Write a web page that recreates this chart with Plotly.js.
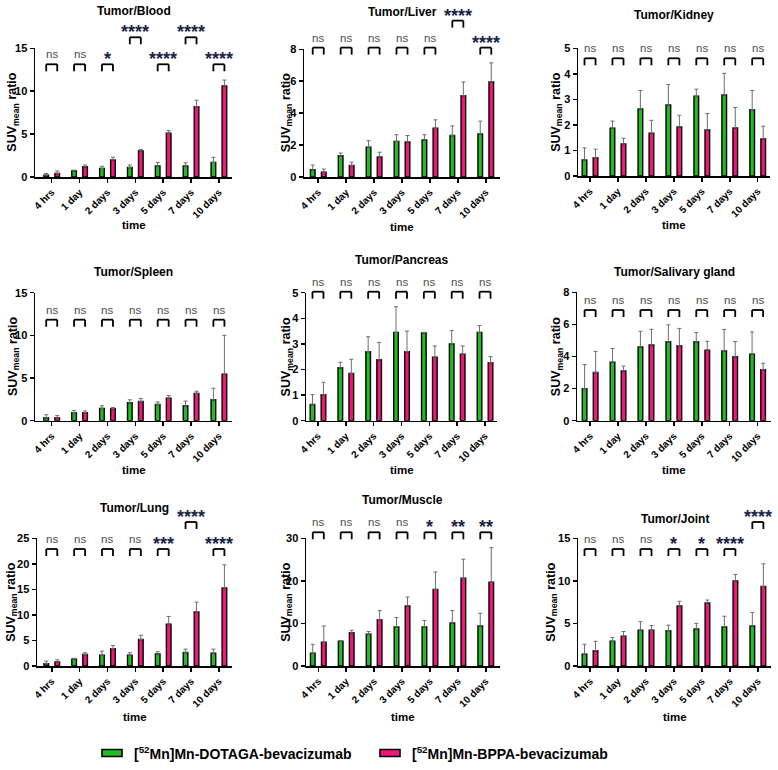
<!DOCTYPE html>
<html>
<head>
<meta charset="utf-8">
<script src="https://cdn.plot.ly/plotly-3.0.1.min.js"></script>
<style>
  html, body { margin: 0; padding: 0; background: #fff; }
  #chart { width: 778px; height: 770px; }
</style>
</head>
<body>
<div id="chart"></div>
<script>
// Time points after injection
const timepoints = ['4 hrs', '1 day', '2 days', '3 days', '5 days', '7 days', '10 days'];
const seriesNames = ['[<sup>52</sup>Mn]Mn-DOTAGA-bevacizumab', '[<sup>52</sup>Mn]Mn-BPPA-bevacizumab'];

// SUVmean ratios (mean and SD) for each tumor/organ pair
const bloodDotaga = [0.2, 0.7, 1.0, 1.1, 1.3, 1.3, 1.7];
const bloodDotagaSd = [0.2, 0.1, 0.25, 0.3, 0.4, 0.35, 0.6];
const bloodBppa = [0.4, 1.2, 2.0, 3.05, 5.1, 8.2, 10.6];
const bloodBppaSd = [0.3, 0.2, 0.3, 0.15, 0.3, 0.75, 0.7];
const bloodSig = ['ns', 'ns', '*', '****', '****', '****', '****'];
const bloodRaised = [0, 0, 0, 1, 0, 1, 0];

const liverDotaga = [0.45, 1.33, 1.87, 2.23, 2.32, 2.6, 2.7];
const liverDotagaSd = [0.3, 0.17, 0.4, 0.42, 0.33, 0.6, 0.8];
const liverBppa = [0.3, 0.72, 1.25, 2.2, 3.05, 5.1, 5.95];
const liverBppaSd = [0.2, 0.21, 0.3, 0.4, 0.53, 0.85, 1.2];
const liverSig = ['ns', 'ns', 'ns', 'ns', 'ns', '****', '****'];
const liverRaised = [0, 0, 0, 0, 0, 1, 0];

const kidneyDotaga = [0.63, 1.87, 2.63, 2.78, 3.12, 3.17, 2.6];
const kidneyDotagaSd = [0.47, 0.28, 0.72, 0.8, 0.28, 0.85, 0.75];
const kidneyBppa = [0.72, 1.25, 1.68, 1.92, 1.8, 1.88, 1.45];
const kidneyBppaSd = [0.33, 0.23, 0.5, 0.46, 0.65, 0.8, 0.5];
const kidneySig = ['ns', 'ns', 'ns', 'ns', 'ns', 'ns', 'ns'];
const kidneyRaised = [0, 0, 0, 0, 0, 0, 0];

const spleenDotaga = [0.35, 0.95, 1.45, 2.1, 1.9, 1.75, 2.45];
const spleenDotagaSd = [0.35, 0.25, 0.3, 0.35, 0.3, 0.55, 1.35];
const spleenBppa = [0.35, 0.95, 1.42, 2.25, 2.65, 3.2, 5.45];
const spleenBppaSd = [0.25, 0.2, 0.13, 0.35, 0.3, 0.25, 4.55];
const spleenSig = ['ns', 'ns', 'ns', 'ns', 'ns', 'ns', 'ns'];
const spleenRaised = [0, 0, 0, 0, 0, 0, 0];

const pancreasDotaga = [0.63, 2.07, 2.7, 3.45, 3.43, 3.0, 3.45];
const pancreasDotagaSd = [0.39, 0.21, 0.58, 1.0, 0.02, 0.52, 0.27];
const pancreasBppa = [1.02, 1.85, 2.38, 2.7, 2.48, 2.6, 2.27];
const pancreasBppaSd = [0.48, 0.55, 0.68, 0.8, 0.44, 0.32, 0.23];
const pancreasSig = ['ns', 'ns', 'ns', 'ns', 'ns', 'ns', 'ns'];
const pancreasRaised = [0, 0, 0, 0, 0, 0, 0];

const salivaryDotaga = [2.0, 3.65, 4.6, 4.92, 4.92, 4.35, 4.15];
const salivaryDotagaSd = [1.5, 0.85, 0.97, 1.05, 0.58, 1.33, 1.38];
const salivaryBppa = [3.0, 3.1, 4.72, 4.68, 4.4, 3.98, 3.18];
const salivaryBppaSd = [1.32, 0.3, 0.98, 1.07, 0.55, 0.95, 0.4];
const salivarySig = ['ns', 'ns', 'ns', 'ns', 'ns', 'ns', 'ns'];
const salivaryRaised = [0, 0, 0, 0, 0, 0, 0];

const lungDotaga = [0.45, 1.35, 2.1, 2.1, 2.35, 2.65, 2.5];
const lungDotagaSd = [0.5, 0.15, 0.8, 0.5, 0.45, 0.65, 0.8];
const lungBppa = [0.8, 2.25, 3.4, 5.2, 8.2, 10.6, 15.3];
const lungBppaSd = [0.4, 0.35, 0.6, 0.8, 1.5, 1.9, 4.5];
const lungSig = ['ns', 'ns', 'ns', 'ns', '***', '****', '****'];
const lungRaised = [0, 0, 0, 0, 0, 1, 0];

const muscleDotaga = [3.0, 5.8, 7.5, 9.2, 9.2, 10.1, 9.4];
const muscleDotagaSd = [2.1, 0.15, 0.6, 2.2, 1.5, 2.9, 3.0];
const muscleBppa = [5.6, 7.8, 10.9, 14.1, 18.0, 20.6, 19.7];
const muscleBppaSd = [3.8, 0.6, 2.1, 2.1, 4.1, 4.5, 8.1];
const muscleSig = ['ns', 'ns', 'ns', 'ns', '*', '**', '**'];
const muscleRaised = [0, 0, 0, 0, 0, 0, 0];

const jointDotaga = [1.4, 2.9, 4.2, 4.15, 4.35, 4.6, 4.7];
const jointDotagaSd = [1.15, 0.45, 1.0, 0.65, 0.65, 1.25, 1.6];
const jointBppa = [1.8, 3.5, 4.2, 7.05, 7.4, 10.0, 9.35];
const jointBppaSd = [1.1, 0.55, 0.55, 0.55, 0.35, 0.75, 2.65];
const jointSig = ['ns', 'ns', 'ns', '*', '*', '****', '****'];
const jointRaised = [0, 0, 0, 0, 0, 0, 1];

// Panel layout: box = [left, right, top, bottom] of each plot area in px
const panels = [
  { title: 'Tumor/Blood', dot: bloodDotaga, dotSd: bloodDotagaSd, bppa: bloodBppa, bppaSd: bloodBppaSd, sig: bloodSig, raised: bloodRaised,
    ymax: 15, dtick: 5, box: [35, 232, 48.3, 177], xr: [-0.6, 6.47], br: 16, titleY: 11, yTitleX: 13, timeY: 225 },
  { title: 'Tumor/Liver', dot: liverDotaga, dotSd: liverDotagaSd, bppa: liverBppa, bppaSd: liverBppaSd, sig: liverSig, raised: liverRaised,
    ymax: 8, dtick: 2, box: [304, 500, 49.3, 177], xr: [-0.51, 6.51], br: -1.7, titleY: 11.7, yTitleX: 287, timeY: 226.7 },
  { title: 'Tumor/Kidney', dot: kidneyDotaga, dotSd: kidneyDotagaSd, bppa: kidneyBppa, bppaSd: kidneyBppaSd, sig: kidneySig, raised: kidneyRaised,
    ymax: 5, dtick: 1, box: [578, 770, 48.3, 176], xr: [-0.43, 6.44], br: 10, titleY: 15, yTitleX: 556.7, timeY: 225 },
  { title: 'Tumor/Spleen', dot: spleenDotaga, dotSd: spleenDotagaSd, bppa: spleenBppa, bppaSd: spleenBppaSd, sig: spleenSig, raised: spleenRaised,
    ymax: 15, dtick: 5, box: [35, 232, 292.7, 420.7], xr: [-0.6, 6.47], br: 27, titleY: 272.3, yTitleX: 13.3, timeY: 470 },
  { title: 'Tumor/Pancreas', dot: pancreasDotaga, dotSd: pancreasDotagaSd, bppa: pancreasBppa, bppaSd: pancreasBppaSd, sig: pancreasSig, raised: pancreasRaised,
    ymax: 5, dtick: 1, box: [306, 497, 292.7, 420.7], xr: [-0.43, 6.43], br: -1, titleY: 260, yTitleX: 286.7, timeY: 470 },
  { title: 'Tumor/Salivary gland', dot: salivaryDotaga, dotSd: salivaryDotagaSd, bppa: salivaryBppa, bppaSd: salivaryBppaSd, sig: salivarySig, raised: salivaryRaised,
    ymax: 8, dtick: 2, box: [577, 771, 292.3, 420.7], xr: [-0.47, 6.48], br: 17.7, titleY: 271.7, yTitleX: 556.7, timeY: 470 },
  { title: 'Tumor/Lung', dot: lungDotaga, dotSd: lungDotagaSd, bppa: lungBppa, bppaSd: lungBppaSd, sig: lungSig, raised: lungRaised,
    ymax: 25, dtick: 5, box: [37, 232, 538.3, 666], xr: [-0.53, 6.47], br: 10.7, titleY: 508.3, yTitleX: 11.7, timeY: 716.7 },
  { title: 'Tumor/Muscle', dot: muscleDotaga, dotSd: muscleDotagaSd, bppa: muscleBppa, bppaSd: muscleBppaSd, sig: muscleSig, raised: muscleRaised,
    ymax: 30, dtick: 10, box: [306, 500, 538.3, 666], xr: [-0.44, 6.51], br: -6, titleY: 500, yTitleX: 286.7, timeY: 716.7 },
  { title: 'Tumor/Joint', dot: jointDotaga, dotSd: jointDotagaSd, bppa: jointBppa, bppaSd: jointBppaSd, sig: jointSig, raised: jointRaised,
    ymax: 15, dtick: 5, box: [578, 771, 538.3, 666], xr: [-0.43, 6.47], br: 10.7, titleY: 519.3, yTitleX: 551.7, timeY: 716.7 }
];

const W = 778, H = 770;
const FONT = 'Liberation Sans, Arial, Helvetica, sans-serif';
const GREEN = '#1fbd1f';
const PINK = '#f2167a';
const STAR = '#1b2447';
const BARGAP = 0.21, GROUPGAP = 0.58;
const RAISE_PX = 27, LEG_PX = 7;

const traces = [];
const shapes = [];
const annotations = [];
const layout = {
  width: W, height: H,
  margin: { l: 0, r: 0, t: 0, b: 0 },
  paper_bgcolor: '#fff', plot_bgcolor: 'rgba(0,0,0,0)',
  showlegend: false,
  barmode: 'group', bargap: BARGAP, bargroupgap: GROUPGAP,
  font: { family: FONT, color: '#000' },
  shapes: shapes, annotations: annotations
};

const zeros = timepoints.map(() => 0);
const slot = (1 - BARGAP) / 2;

panels.forEach((p, k) => {
  const n = k + 1;
  const xa = n === 1 ? 'x' : 'x' + n;
  const ya = n === 1 ? 'y' : 'y' + n;
  const [px0, px1, pyT, pyB] = p.box;
  const hpx = pyB - pyT;

  [[p.dot, p.dotSd, GREEN, seriesNames[0]], [p.bppa, p.bppaSd, PINK, seriesNames[1]]].forEach(([vals, sd, col, name]) => {
    traces.push({
      type: 'bar', name: name, x: timepoints, y: vals, xaxis: xa, yaxis: ya,
      marker: { color: col, line: { color: '#000', width: 1.4 } },
      error_y: { type: 'data', symmetric: false, array: sd, arrayminus: zeros, color: '#6e6e6e', thickness: 1, width: 2 },
      hoverinfo: 'skip'
    });
  });

  layout['xaxis' + (n === 1 ? '' : n)] = {
    domain: [px0 / W, px1 / W], anchor: ya, type: 'category', range: p.xr,
    showline: true, linecolor: '#000', linewidth: 1.5,
    ticks: 'outside', ticklen: 4, tickwidth: 1.5, tickcolor: '#000',
    tickangle: -45, tickfont: { family: FONT, size: 10, weight: 'bold', color: '#000' },
    showgrid: false, zeroline: false, fixedrange: true
  };
  layout['yaxis' + (n === 1 ? '' : n)] = {
    domain: [1 - pyB / H, 1 - pyT / H], anchor: xa, range: [0, p.ymax], tick0: 0, dtick: p.dtick,
    showline: true, linecolor: '#000', linewidth: 1.5,
    ticks: 'outside', ticklen: 4, tickwidth: 1.5, tickcolor: '#000',
    tickfont: { family: FONT, size: 11, weight: 'bold', color: '#000' },
    showgrid: false, zeroline: false, fixedrange: true
  };

  // panel title
  annotations.push({
    xref: 'paper', yref: 'paper', x: (px0 + px1) / 2 / W, y: 1 - p.titleY / H,
    xanchor: 'center', yanchor: 'middle', showarrow: false,
    text: p.title, font: { family: FONT, size: 12, weight: 'bold', color: '#000' }
  });
  // y axis title
  annotations.push({
    xref: 'paper', yref: 'paper', x: p.yTitleX / W, y: 1 - (pyT + pyB) / 2 / H,
    xanchor: 'center', yanchor: 'middle', showarrow: false, textangle: -90,
    text: 'SUV<sub>mean</sub> ratio', font: { family: FONT, size: 12.5, weight: 'bold', color: '#000' }
  });
  // x axis title
  annotations.push({
    xref: 'paper', yref: 'paper', x: (px0 + px1) / 2 / W, y: 1 - p.timeY / H,
    xanchor: 'center', yanchor: 'middle', showarrow: false,
    text: 'time', font: { family: FONT, size: 11.5, weight: 'bold', color: '#000' }
  });

  // significance brackets between the two bars of each time point
  const xd = v => (v - p.xr[0]) / (p.xr[1] - p.xr[0]);
  p.sig.forEach((label, i) => {
    const off = p.br - (p.raised[i] ? RAISE_PX : 0);
    const yTop = 1 - off / hpx;
    const yLeg = yTop - LEG_PX / hpx;
    const xg = xd(i - slot / 2), xp = xd(i + slot / 2);
    const ln = { color: '#000', width: 1.8 };
    const base = { type: 'line', xref: xa + ' domain', yref: ya + ' domain', line: ln };
    shapes.push(Object.assign({}, base, { x0: xg, x1: xg, y0: yLeg, y1: yTop }));
    shapes.push(Object.assign({}, base, { x0: xg, x1: xp, y0: yTop, y1: yTop }));
    shapes.push(Object.assign({}, base, { x0: xp, x1: xp, y0: yLeg, y1: yTop }));
    const isNs = label === 'ns';
    annotations.push({
      xref: xa, yref: ya + ' domain', x: i, y: yTop + 10 / hpx,
      xanchor: 'center', yanchor: 'middle', showarrow: false, yshift: isNs ? 0 : -5,
      text: label,
      font: isNs ? { family: FONT, size: 11.5, color: '#4d4d4d' } : { family: FONT, size: 18, weight: 'bold', color: STAR }
    });
  });
});

// legend row
const legendItems = [
  { name: seriesNames[0], color: GREEN, x: 102 },
  { name: seriesNames[1], color: PINK, x: 380 }
];
legendItems.forEach(it => {
  shapes.push({
    type: 'rect', xref: 'paper', yref: 'paper',
    x0: it.x / W, x1: (it.x + 20) / W, y0: 1 - 756.5 / H, y1: 1 - 749.5 / H,
    fillcolor: it.color, line: { color: '#000', width: 1.6 }
  });
  annotations.push({
    xref: 'paper', yref: 'paper', x: (it.x + 30) / W, y: 1 - 753 / H,
    xanchor: 'left', yanchor: 'middle', showarrow: false,
    text: it.name, font: { family: FONT, size: 14, weight: 'bold', color: '#000' }
  });
});

Plotly.newPlot('chart', traces, layout, { displayModeBar: false, staticPlot: true });
</script>
</body>
</html>
